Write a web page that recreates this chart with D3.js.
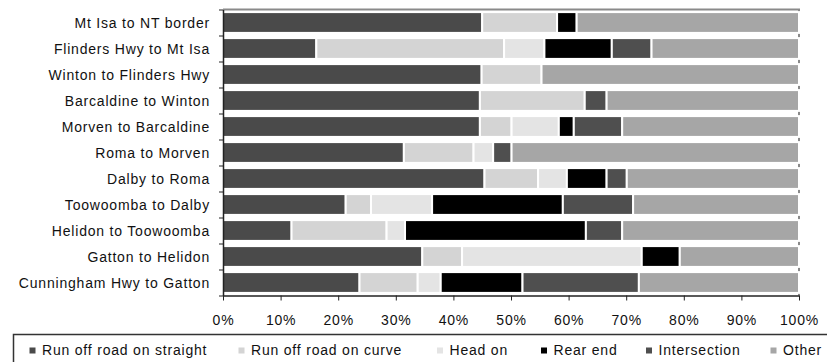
<!DOCTYPE html>
<html>
<head>
<meta charset="utf-8">
<script src="https://cdn.jsdelivr.net/npm/d3@7"></script>
<style>
  html, body { margin: 0; padding: 0; background: #fff; }
  svg { display: block; }
  text { font-family: "Liberation Sans", Arial, sans-serif; font-size: 14px; fill: #111; letter-spacing: 0.8px; }
</style>
</head>
<body>
<svg id="chart" width="827" height="362"></svg>
<script>
// Road sections, listed top to bottom
const categories = [
  "Mt Isa to NT border",
  "Flinders Hwy to Mt Isa",
  "Winton to Flinders Hwy",
  "Barcaldine to Winton",
  "Morven to Barcaldine",
  "Roma to Morven",
  "Dalby to Roma",
  "Toowoomba to Dalby",
  "Helidon to Toowoomba",
  "Gatton to Helidon",
  "Cunningham Hwy to Gatton"
];

// Share of crashes by type (%), one value per road section
const runOffStraight = [45.0, 16.2, 44.9, 44.6, 44.6, 31.4, 45.4, 21.3, 11.9, 34.6, 23.7];
const runOffCurve    = [13.0, 32.6, 10.4, 18.2,  5.5, 12.1,  9.3,  4.4, 16.5,  6.9, 10.1];
const headOn         = [ 0.0,  7.0,  0.0,  0.0,  8.2,  3.4,  5.0, 10.6,  3.2, 31.2,  4.0];
const rearEnd        = [ 3.4, 11.7,  0.0,  0.0,  2.6,  0.0,  6.9, 22.7, 31.4,  6.6, 14.2];
const intersection   = [ 0.0,  6.9,  0.0,  3.8,  8.4,  3.2,  3.5, 12.2,  6.3,  0.0, 20.2];
const other          = [38.6, 25.6, 44.7, 33.4, 30.7, 49.9, 29.9, 28.8, 30.7, 20.7, 27.8];

const seriesNames = ["Run off road on straight", "Run off road on curve", "Head on", "Rear end", "Intersection", "Other"];
const seriesValues = [runOffStraight, runOffCurve, headOn, rearEnd, intersection, other];
const seriesColors = ["#4a4a4a", "#d4d4d4", "#e4e4e4", "#000000", "#4f4f4f", "#a6a6a6"];

const tickValues = [0, 10, 20, 30, 40, 50, 60, 70, 80, 90, 100];

// Rows for d3.stack
const rows = categories.map((c, i) => {
  const r = { category: c };
  seriesNames.forEach((s, j) => { r[s] = seriesValues[j][i]; });
  return r;
});

const svg = d3.select("#chart");

const plot = { left: 223, right: 799, top: 9.5, bottom: 295.5 };

const x = d3.scaleLinear().domain([0, 100]).range([plot.left, plot.right]);
const y = d3.scaleBand().domain(categories).range([plot.top, plot.bottom]).paddingInner(0.2).paddingOuter(0.1);

const stacked = d3.stack().keys(seriesNames)(rows);
const color = d3.scaleOrdinal().domain(seriesNames).range(seriesColors);

// Plot frame: top and right edges
svg.append("path")
  .attr("d", `M${plot.left},${plot.top}H${plot.right}V${plot.bottom}`)
  .attr("fill", "none")
  .attr("stroke", "#8a8a8a")
  .attr("stroke-width", 2);

// Stacked bars
svg.append("g")
  .selectAll("g")
  .data(stacked)
  .join("g")
  .attr("fill", d => color(d.key))
  .selectAll("rect")
  .data(d => d)
  .join("rect")
  .attr("x", d => x(d[0]))
  .attr("width", d => x(d[1]) - x(d[0]))
  .attr("y", d => y(d.data.category))
  .attr("height", y.bandwidth())
  .attr("stroke", "#fff")
  .attr("stroke-width", 2);

// Bottom axis
const xAxis = svg.append("g")
  .attr("transform", `translate(0,${plot.bottom})`)
  .call(d3.axisBottom(x).tickValues(tickValues).tickFormat(d => d + "%").tickSize(5).tickSizeOuter(0).tickPadding(14.5));
xAxis.select(".domain").attr("stroke", "#222").attr("stroke-width", 1.5);
xAxis.selectAll(".tick line").attr("stroke", "#222");
xAxis.selectAll("text").attr("font-size", null).attr("font-family", null);

// Left axis: tick marks between categories
const boundary = d3.scaleLinear().domain([0, categories.length]).range([plot.top, plot.bottom]);
const yTicks = svg.append("g")
  .attr("transform", `translate(${plot.left},0)`)
  .call(d3.axisLeft(boundary).tickValues(d3.range(categories.length + 1)).tickFormat("").tickSize(4).tickSizeOuter(0));
yTicks.select(".domain").attr("stroke", "#222").attr("stroke-width", 1.5);
yTicks.selectAll(".tick line").attr("stroke", "#222");

// Left axis: category labels
const yLabels = svg.append("g")
  .attr("transform", `translate(${plot.left},0)`)
  .call(d3.axisLeft(y).tickSize(0).tickPadding(13));
yLabels.select(".domain").remove();
yLabels.selectAll("text").attr("font-size", null).attr("font-family", null).attr("dy", "0.42em");

// Legend
svg.append("path")
  .attr("d", "M13.5,366V334.5H830")
  .attr("fill", "none")
  .attr("stroke", "#333")
  .attr("stroke-width", 1.5);

const legendX = [42, 251, 449.5, 553.5, 658.5, 783];
const legend = svg.append("g")
  .selectAll("g")
  .data(seriesNames)
  .join("g")
  .attr("transform", (d, i) => `translate(${legendX[i]},355)`);
legend.append("rect")
  .attr("x", -12.5)
  .attr("y", -7.5)
  .attr("width", 6)
  .attr("height", 6)
  .attr("fill", d => color(d));
legend.append("text")
  .text(d => d);
</script>
</body>
</html>
